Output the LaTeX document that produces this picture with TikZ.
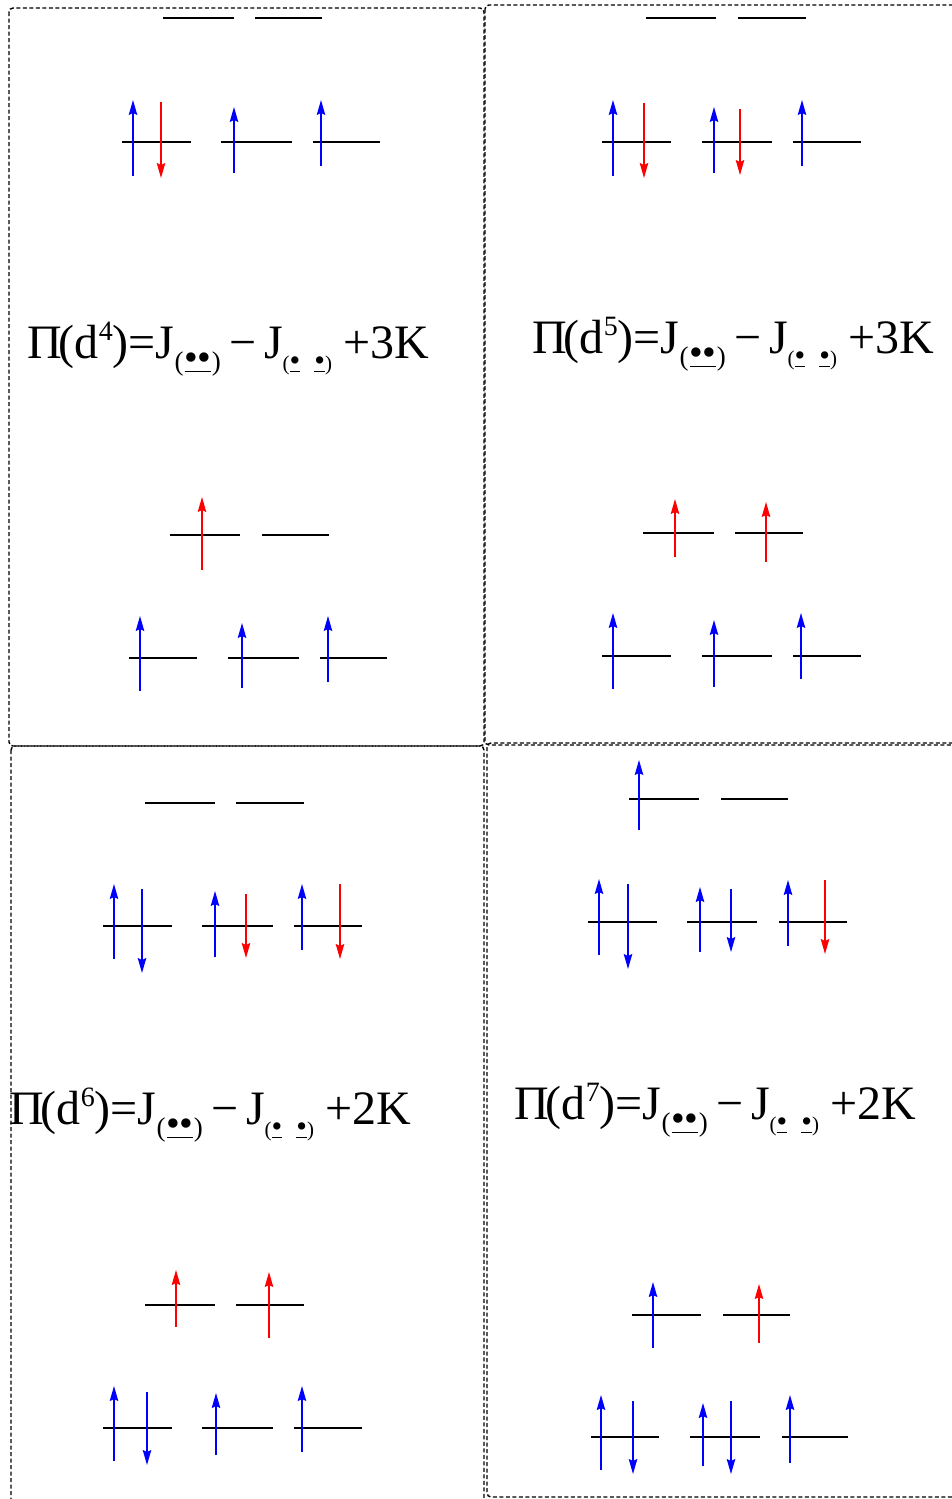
\documentclass[tikz,border=0pt]{standalone}
\usepackage{fontspec}
\usepackage{graphicx}
\setmainfont{Liberation Serif}
\usetikzlibrary{arrows.meta}
\newcommand\bdot{\scalebox{1.45}{•}}
\newcommand\subA{\raisebox{-12pt}{\fontsize{27}{27}\selectfont(\kern1pt\underline{\bdot\kern-1pt\bdot}\kern1pt)}}
\newcommand\subB{\raisebox{-12pt}{\fontsize{21}{21}\selectfont(\underline{\bdot}\hspace{14pt}\underline{\bdot})}}
\newcommand\formula[2]{Π\kern-3pt(d\raisebox{18pt}{\fontsize{28}{28}\selectfont #1})=J\subA\hspace{9pt}−\hspace{7pt}J\subB\hspace{11pt}+#2K}
\tikzset{
  panel/.style={draw=black, dash pattern=on 4pt off 2.5pt, line width=1.4pt, rounded corners=4pt},
  level/.style={draw, line width=1.6pt, black},
  spin/.style={line width=1.4pt, -{Stealth[length=15pt,width=8.5pt,inset=2pt]}},
  formtext/.style={font=\fontsize{48}{48}\selectfont, inner sep=0pt, anchor=base west},
}
\newcommand\lvl[3]{\draw[level] (#1,#3) -- (#2,#3);}
% \spn{color}{x}{from y}{to y (tip)}
\newcommand\spn[4]{\draw[spin,#1] (#2,#3) -- (#2,#4);}
\begin{document}
\begin{tikzpicture}[x=1pt,y=-1pt]
\useasboundingbox (0,0) rectangle (952,1499);
% panels
\draw[panel] (9,8) rectangle (484,746);
\draw[panel] (485,5) rectangle (962,745);
\draw[panel] (11,746) rectangle (484,1510);
\draw[panel] (487,743) rectangle (962,1497);

% ---------- d4 (top left) ----------
\lvl{163}{234}{18} \lvl{255}{322}{18}
\lvl{122}{191}{142} \lvl{221}{292}{142} \lvl{313}{380}{142}
\spn{blue}{133}{176}{100} \spn{red}{161}{102}{178}
\spn{blue}{234}{173}{107}
\spn{blue}{321}{166}{100}
\node[formtext] (f4) at (27,358) {\formula{4}{3}};
\lvl{170}{240}{535} \lvl{262}{329}{535}
\spn{red}{202}{570}{497}
\lvl{129}{197}{658} \lvl{228}{299}{658} \lvl{320}{387}{658}
\spn{blue}{140}{691}{616}
\spn{blue}{242}{688}{623}
\spn{blue}{328}{682}{616}

% ---------- d5 (top right) ----------
\lvl{646}{716}{18} \lvl{738}{806}{18}
\lvl{602}{671}{142} \lvl{702}{772}{142} \lvl{793}{861}{142}
\spn{blue}{613}{176}{100} \spn{red}{644}{103}{178}
\spn{blue}{714}{173}{107} \spn{red}{740}{109}{175}
\spn{blue}{802}{166}{100}
\node[formtext] (f5) at (532,353) {\formula{5}{3}};
\lvl{643}{714}{533} \lvl{735}{803}{533}
\spn{red}{675}{557}{499}
\spn{red}{766}{562}{502}
\lvl{602}{671}{656} \lvl{702}{772}{656} \lvl{793}{861}{656}
\spn{blue}{613}{689}{613}
\spn{blue}{714}{687}{620}
\spn{blue}{801}{679}{613}

% ---------- d6 (bottom left) ----------
\lvl{145}{215}{803} \lvl{236}{304}{803}
\lvl{103}{172}{926} \lvl{202}{273}{926} \lvl{294}{362}{926}
\spn{blue}{114}{959}{884} \spn{blue}{142}{889}{973}
\spn{blue}{215}{957}{891} \spn{red}{246}{894}{958}
\spn{blue}{302}{950}{884} \spn{red}{340}{884}{959}
\node[formtext] (f6) at (9,1124) {\formula{6}{2}};
\lvl{145}{215}{1305} \lvl{236}{304}{1305}
\spn{red}{176}{1327}{1270}
\spn{red}{269}{1338}{1272}
\lvl{103}{172}{1428} \lvl{202}{273}{1428} \lvl{294}{362}{1428}
\spn{blue}{114}{1461}{1386} \spn{blue}{147}{1392}{1465}
\spn{blue}{216}{1455}{1393}
\spn{blue}{302}{1452}{1386}

% ---------- d7 (bottom right) ----------
\lvl{629}{699}{799} \lvl{721}{788}{799}
\spn{blue}{639}{830}{760}
\lvl{588}{657}{922} \lvl{687}{757}{922} \lvl{779}{847}{922}
\spn{blue}{599}{955}{879} \spn{blue}{628}{884}{969}
\spn{blue}{700}{952}{887} \spn{blue}{731}{889}{952}
\spn{blue}{788}{946}{880} \spn{red}{825}{880}{954}
\node[formtext] (f7) at (514,1119) {\formula{7}{2}};
\lvl{632}{701}{1315} \lvl{723}{790}{1315}
\spn{blue}{653}{1348}{1282}
\spn{red}{759}{1343}{1284}
\lvl{591}{659}{1437} \lvl{690}{760}{1437} \lvl{782}{848}{1437}
\spn{blue}{601}{1470}{1395} \spn{blue}{633}{1401}{1474}
\spn{blue}{703}{1466}{1403} \spn{blue}{731}{1401}{1474}
\spn{blue}{790}{1463}{1395}
\end{tikzpicture}
\end{document}
